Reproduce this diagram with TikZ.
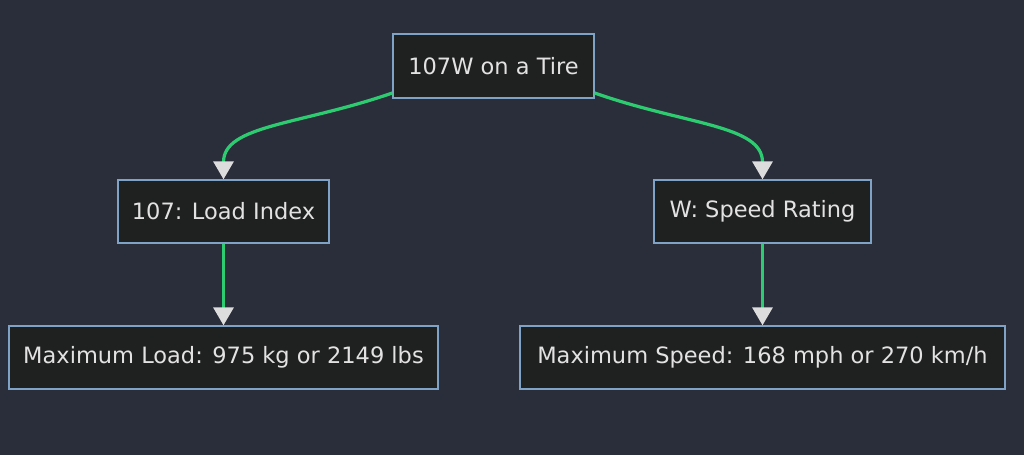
\documentclass[tikz,border=0pt]{standalone}
\usepackage{fontspec}
\setmainfont{DejaVu Sans}
\usetikzlibrary{arrows.meta}
\definecolor{bg}{HTML}{2A2E3A}
\definecolor{nodefill}{HTML}{1F2020}
\definecolor{nodeborder}{HTML}{7FA3C6}
\definecolor{edgegreen}{HTML}{2ECC71}
\definecolor{txt}{HTML}{E3E2E2}
\definecolor{tipc}{HTML}{DDDDDD}
\tikzset{
  box/.style={draw=nodeborder, fill=nodefill, line width=1.3pt, text=txt,
    font=\fontsize{22.5}{26}\selectfont, inner sep=0pt, anchor=center},
  conn/.style={draw=edgegreen, line width=3.2pt,
    -{Triangle[width=20pt,length=18pt,fill=tipc,color=tipc]}, shorten >=0pt}
}
\begin{document}
\begin{tikzpicture}[x=1pt,y=-1pt]
\fill[bg] (0,0) rectangle (1024,455);
\useasboundingbox (0,0) rectangle (1024,455);
\node[box, minimum width=201pt, minimum height=64pt] (top) at (493.5,66) {107W on a Tire};
\node[box, minimum width=211pt, minimum height=63pt] (li) at (223.5,211.5) {107: Load Index};
\node[box, minimum width=217pt, minimum height=63pt] (sr) at (762.5,211.5) {W: Speed Rating};
\node[box, minimum width=429pt, minimum height=63pt] (ml) at (223.5,357.5) {Maximum Load: 975 kg or 2149 lbs};
\node[box, minimum width=485pt, minimum height=63pt] (ms) at (762.5,357.5) {Maximum Speed: 168 mph or 270 km/h};
\draw[conn] (top.west |- 0,93) .. controls (300,125) and (223.5,125) .. (li.north);
\draw[conn] (top.east |- 0,93) .. controls (686,125) and (762.5,125) .. (sr.north);
\draw[conn] (li.south) -- (ml.north);
\draw[conn] (sr.south) -- (ms.north);
\end{tikzpicture}
\end{document}
